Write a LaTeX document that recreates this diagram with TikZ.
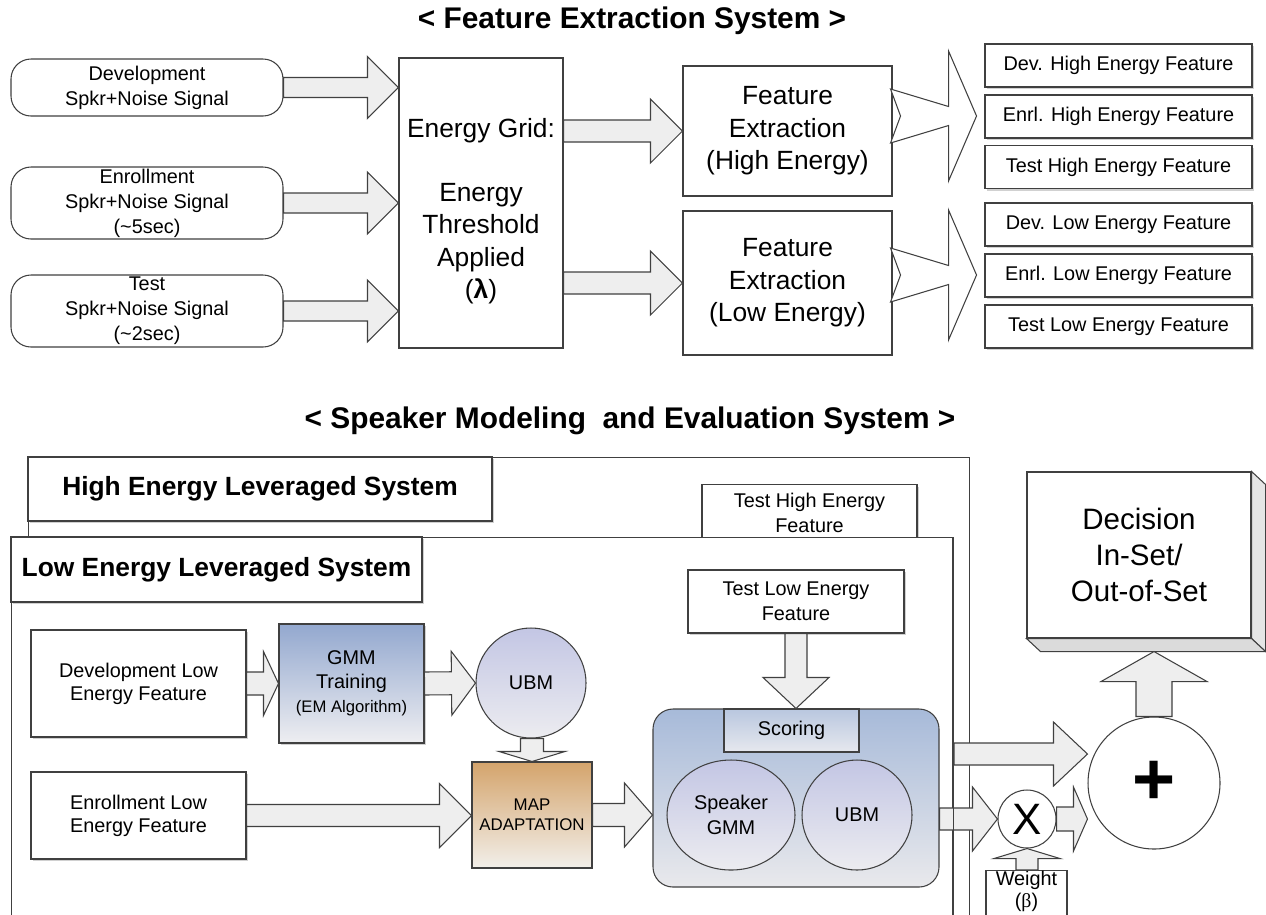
\documentclass[tikz,border=0pt]{standalone}
\usepackage{fontspec}
\setmainfont{Liberation Sans}
\newfontfamily\greekfont{Liberation Serif}
\usetikzlibrary{calc}
\usetikzlibrary{shadows}
\usetikzlibrary{shapes.geometric}

\definecolor{arrowfill}{HTML}{EEEEEE}
\definecolor{gmmtop}{HTML}{93A8CF}
\definecolor{gmmbot}{HTML}{EEEEF1}
\definecolor{maptop}{HTML}{D4A46C}
\definecolor{mapbot}{HTML}{F2EFEA}
\definecolor{ubmtop}{HTML}{C3C6E4}
\definecolor{ubmbot}{HTML}{ECECF0}
\definecolor{scoretop}{HTML}{A7BAD9}
\definecolor{scorebot}{HTML}{E9E9EC}
\definecolor{scoringtop}{HTML}{B9C7DF}
\definecolor{scoringbot}{HTML}{E6E8EE}

\def\px{0.02cm} % one pixel of the reference

% block arrow from #1 to the tip #2: head length, shaft half width, head half width (px)
\newcommand{\blockarrow}[5]{%
  \coordinate (ba-s) at (#1);
  \coordinate (ba-t) at (#2);
  \coordinate (ba-b) at ($(ba-t)!#3*\px!(ba-s)$);
  \draw[barrow] ($(ba-s)!#4*\px!90:(ba-t)$) -- ($(ba-b)!#4*\px!90:(ba-t)$)
    -- ($(ba-b)!#5*\px!90:(ba-t)$) -- (ba-t) -- ($(ba-b)!#5*\px!-90:(ba-t)$)
    -- ($(ba-b)!#4*\px!-90:(ba-t)$) -- ($(ba-s)!#4*\px!-90:(ba-t)$) -- cycle;
}

\begin{document}
\begin{tikzpicture}[x=0.02cm, y=-0.02cm,
    line/.style={draw=black!75, line width=0.6pt},
    smalltxt/.style={font=\fontsize{11.3}{14.2}\selectfont},
    bigtxt/.style={font=\fontsize{15}{18.5}\selectfont},
    box/.style={line, fill=white, rectangle, inner sep=0pt, align=center, smalltxt},
    shbox/.style={box, drop shadow={shadow xshift=.04cm, shadow yshift=-.04cm, opacity=.3, fill=black!60}},
    systitle/.style={shbox, font=\bfseries\fontsize{15}{18}\selectfont},
    barrow/.style={line, fill=arrowfill},
    hollow/.style={line, fill=white},
    disc/.style={line, circle, inner sep=0pt, align=center, smalltxt}]

    \useasboundingbox (0,0) rectangle (1266,914);

    % Titles
    \node[font=\bfseries\fontsize{17}{20}\selectfont] (fetitle) at (632,21) {< Feature Extraction System >};
    \node[font=\bfseries\fontsize{17}{20}\selectfont] (smtitle) at (630,421) {< Speaker Modeling\ \ and Evaluation System >};

    % Input signals
    \node[box, rounded corners=.4cm, minimum width=272*\px, minimum height=57*\px] (devsig) at (147,87.5) {Development\\Spkr+Noise Signal};
    \node[box, rounded corners=.4cm, minimum width=272*\px, minimum height=72*\px] (enrsig) at (147,203) {Enrollment\\Spkr+Noise Signal\\(\textasciitilde5sec)};
    \node[box, rounded corners=.4cm, minimum width=272*\px, minimum height=72*\px] (tstsig) at (147,311) {Test\\Spkr+Noise Signal\\(\textasciitilde2sec)};

    % Energy grid and feature extraction
    \node[box, minimum width=164*\px, minimum height=290*\px] (grid) at (481,203) {};
    \node[bigtxt, align=center] (gridtxt) at (481,211) {Energy Grid:\\[18pt]Energy\\Threshold\\Applied\\({\bfseries λ})};
    \node[box, bigtxt, minimum width=209*\px, minimum height=130*\px] (fxhigh) at (787.5,131) {Feature\\Extraction\\(High Energy)};
    \node[box, bigtxt, minimum width=209*\px, minimum height=144*\px] (fxlow) at (787.5,283) {Feature\\Extraction\\(Low Energy)};

    % Feature outputs
    \foreach \nm/\yy/\txt in {devhi/65.5/{Dev. High Energy Feature}, enrhi/116.5/{Enrl. High Energy Feature},
        tsthf/167/{Test High Energy Feature}, devlf/224.5/{Dev. Low Energy Feature},
        enrlf/275.5/{Enrl. Low Energy Feature}, tstlf/326.5/{Test Low Energy Feature}}
        \node[shbox, minimum width=267*\px, minimum height=43*\px] (\nm) at (1118.5,\yy) {\txt};

    % Arrows of the extraction part
    \blockarrow{devsig.east}{grid.west |- devsig.east}{31}{10}{31}
    \blockarrow{enrsig.east}{grid.west |- enrsig.east}{31}{10}{31}
    \blockarrow{tstsig.east}{grid.west |- tstsig.east}{31}{10}{31}
    \blockarrow{grid.east |- fxhigh.west}{fxhigh.west}{32}{11}{32}
    \blockarrow{grid.east |- fxlow.west}{fxlow.west}{32}{11}{32}
    \foreach \src/\dy in {fxhigh/-15, fxlow/-8}{
        \coordinate (split) at ($(\src.east)+(0,\dy)$);
        \draw[hollow] ($(split)+(-2,-27)$) -- ($(split)+(56,-9.5)$) -- ($(split)+(56,-65)$) -- ($(split)+(84,0)$)
            -- ($(split)+(56,65)$) -- ($(split)+(56,9.5)$) -- ($(split)+(-2,27)$) -- ($(split)+(8,0)$) -- cycle;
    }

    % Leveraged systems
    \node[box, minimum width=941*\px, minimum height=500*\px, anchor=north west] (hisys) at (28,457) {};
    \node[systitle, minimum width=464*\px, minimum height=64*\px] (hititle) at (260,489) {High Energy Leveraged System};
    \node[shbox, minimum width=215*\px, minimum height=56*\px, anchor=north] (tsthi) at (809.5,484) {Test High Energy\\Feature};
    \node[box, minimum width=941*\px, minimum height=400*\px, anchor=north west] (losys) at (11,537) {};
    \node[systitle, minimum width=411*\px, minimum height=65*\px] (lotitle) at (216.5,569.5) {Low Energy Leveraged System};

    % Modeling blocks
    \node[shbox, font=\fontsize{11.3}{13.2}\selectfont, minimum width=215*\px, minimum height=107*\px] (devlo) at (138.5,683.5) {Development Low\\Energy Feature};
    \node[shbox, font=\fontsize{11.3}{13.2}\selectfont, minimum width=215*\px, minimum height=87*\px] (enrlo) at (138.5,815.5) {Enrollment Low\\Energy Feature};
    \node[shbox, top color=gmmtop, bottom color=gmmbot, font=\fontsize{11.3}{13.6}\selectfont, minimum width=145*\px, minimum height=119*\px] (gmm) at (351.5,683.5) {GMM\\Training\\{\fontsize{9.5}{11}\selectfont (EM Algorithm)}};
    \node[disc, top color=ubmtop, bottom color=ubmbot, minimum size=110*\px] (ubm) at (531,683) {UBM};
    \node[box, top color=maptop, bottom color=mapbot, font=\fontsize{9.6}{11.3}\selectfont, minimum width=120*\px, minimum height=106*\px] (map) at (532,815) {MAP\\ADAPTATION};
    \node[line, rounded corners=.4cm, top color=scoretop, bottom color=scorebot, minimum width=286*\px, minimum height=178*\px] (score) at (796,798) {};
    \node[box, top color=scoringtop, bottom color=scoringbot, minimum width=135*\px, minimum height=43*\px] (scoring) at (791.5,730.5) {Scoring};
    \node[disc, ellipse, top color=ubmtop, bottom color=ubmbot, minimum width=128*\px, minimum height=110*\px] (spkgmm) at (731,815) {Speaker\\GMM};
    \node[disc, top color=ubmtop, bottom color=ubmbot, minimum size=110*\px] (ubmtwo) at (857,815) {UBM};
    \node[shbox, minimum width=216*\px, minimum height=63*\px] (tstlo) at (796,601.5) {Test Low Energy\\Feature};

    % Fusion and decision
    \node[box, font=\fontsize{16.8}{20.4}\selectfont, minimum width=224*\px, minimum height=166*\px] (decision) at (1139,555) {Decision\\In-Set/\\Out-of-Set};
    \draw[line, fill=black!10] (decision.north east) -- ++(14,13) -- ($(decision.south east)+(14,13)$) -- (decision.south east) -- cycle;
    \draw[line, fill=black!14] (decision.south west) -- ++(14,13) -- ($(decision.south east)+(14,13)$) -- (decision.south east) -- cycle;
    \coordinate (decbase) at ($(decision.south)+(0,13)$);
    \node[disc, fill=white, minimum size=132*\px, font=\bfseries\fontsize{42}{42}\selectfont] (plus) at (1154,783) {+};
    \node[disc, fill=white, minimum size=58*\px, font=\fontsize{25}{25}\selectfont] (times) at (1027,819) {X};
    \node[box, minimum width=81*\px, minimum height=60*\px, anchor=north] (weight) at (1026.5,870) {};
    \node[font=\fontsize{11.3}{12.5}\selectfont, align=center, inner sep=0pt] (weighttxt) at (1026.5,891) {Weight\\({\greekfont β})};

    % Arrows of the modeling part
    \blockarrow{devlo.east}{gmm.west}{15}{11.5}{32}
    \blockarrow{gmm.east}{ubm.west}{24}{11.5}{32}
    \blockarrow{map.north |- ubm.south}{map.north}{10}{11.5}{33}
    \blockarrow{enrlo.east}{map.west |- enrlo.east}{32}{11}{32}
    \blockarrow{map.east}{score.west |- map.east}{28}{11.5}{32}
    \blockarrow{tstlo.south}{score.north}{31}{11}{33}
    \coordinate (hiout) at (954,754);
    \blockarrow{hiout}{plus.west |- hiout}{34}{11}{32}
    \blockarrow{score.east |- times.west}{times.west}{25}{11}{32}
    \blockarrow{times.east}{plus.west |- times.east}{14}{12}{32}
    \blockarrow{times.south |- weight.north}{times.south}{10}{11}{33}
    \blockarrow{plus.north}{plus.north |- decbase}{30}{18}{53}
    \draw[line] (losys.north east) -- (losys.south east);

\end{tikzpicture}
\end{document}
